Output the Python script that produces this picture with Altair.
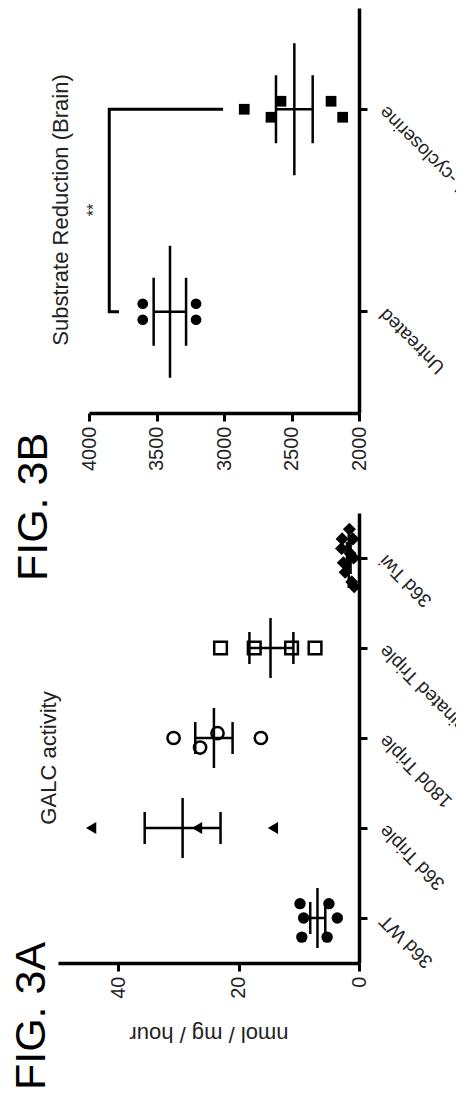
import altair as alt
import pandas as pd

# ---------------- Panel 3A : GALC activity ----------------
A_CATS = ["36d Twi", "Terminated Triple", "180d Triple", "36d Triple", "36d WT"]
A_GROUP = (["36d WT"] * 6 + ["36d Triple"] * 3 + ["180d Triple"] * 4
           + ["Terminated Triple"] * 4 + ["36d Twi"] * 10)
A_VALUE = [9.8, 5.0, 9.2, 3.6, 9.5, 5.3,
           44.5, 26.9, 14.3,
           30.8, 26.4, 23.5, 16.3,
           23.0, 17.4, 11.2, 7.3,
           1.6, 2.8, 2.9, 1.5, 2.6, 2.3, 1.2, 0.8, 0.9, 1.0]
A_JIT = [-3, -3, 0, 0, 4, 4,
         0, 0, 0,
         0, 2, -1, 0,
         0, 0, 0, 0,
         -6, -4, -2, -1, 1, 3, 5, 6, 0, -4]
A_MEAN = [1.7, 14.7, 24.1, 29.3, 6.9]
A_LO = [1.4, 10.9, 21.0, 23.0, 5.6]
A_HI = [2.0, 18.2, 27.2, 35.6, 8.1]
A_TICKS = [0, 20, 40]
A_SHAPES = ["diamond", "square", "circle", "triangle-left", "circle"]
A_SIZES = [170, 130, 110, 70, 120]
A_FILLED = ["36d Twi", "36d Triple", "36d WT"]
A_OPEN = ["Terminated Triple", "180d Triple"]

# ---------------- Panel 3B : Substrate reduction ----------------
B_CATS = ["L-cycloserine", "Untreated"]
B_GROUP = ["Untreated"] * 4 + ["L-cycloserine"] * 5
B_VALUE = [3602, 3602, 3207, 3207, 2850, 2578, 2652, 2207, 2121]
B_JIT = [-1, 1, -1, 1, 0, -1, 1, -1, 1]
B_MEAN = [2479, 3400]
B_LO = [2343, 3281]
B_HI = [2615, 3521]
B_TICKS = [2000, 2500, 3000, 3500, 4000]
B_SHAPES = ["square", "circle"]
BRACKET_X = [3007, 3850, 3850, 3778]
BRACKET_CAT = ["L-cycloserine", "L-cycloserine", "Untreated", "Untreated"]
BRACKET_ORDER = [0, 1, 2, 3]
STAR_X = [3960]

FONT = "Liberation Sans"
TXT = "#222222"

A_W, A_H = 301, 450
B_W, B_H = 301, 405


def value_axis(ticks, title=None):
    kw = dict(values=ticks, format="d", labelAngle=270, labelAlign="right",
              labelBaseline="middle", labelFontSize=20, labelPadding=5, tickSize=8,
              tickWidth=3, domainWidth=3.5, grid=False, labelFont=FONT, labelColor=TXT,
              domainColor="black", tickColor="black")
    if title:
        kw.update(title=title, titleAngle=180, titleFontSize=22, titleBaseline="middle",
                  titleY=70, titleFontWeight="normal", titleColor=TXT, titleFont=FONT)
    else:
        kw.update(title=None)
    return alt.Axis(**kw)


def cat_axis():
    return alt.Axis(orient="right", labelAngle=225, labelAlign="right",
                    labelBaseline="middle", labelFontSize=19, labelPadding=15,
                    labelLimit=600, tickSize=8, tickWidth=3, domainWidth=3.5,
                    title=None, grid=False, labelFont=FONT, labelColor=TXT,
                    domainColor="black", tickColor="black")


# ---- 3A ----
a_pts = pd.DataFrame({"group": A_GROUP, "value": A_VALUE, "jit": A_JIT})
a_sum = pd.DataFrame({"group": A_CATS, "mean": A_MEAN, "lo": A_LO, "hi": A_HI})

a_xscale = alt.Scale(domain=[0, 50], reverse=True)
a_yscale = alt.Scale(type="band", domain=A_CATS, paddingInner=0, paddingOuter=0)
a_xaxis = value_axis(A_TICKS, "nmol / mg / hour")
a_band = A_H / len(A_CATS)


def ax_a(field):
    return alt.X(field, type="quantitative", scale=a_xscale, axis=a_xaxis)


def ay_a():
    return alt.Y("group:N", scale=a_yscale, axis=cat_axis())


a_shape = alt.Shape("group:N", scale=alt.Scale(domain=A_CATS, range=A_SHAPES), legend=None)
a_size = alt.Size("group:N", scale=alt.Scale(domain=A_CATS, range=A_SIZES), legend=None)
a_off = alt.YOffset("jit:Q", scale=alt.Scale(domain=[-9, 9],
                                             range=[a_band / 2 - 43, a_band / 2 + 43]))

a_filled = alt.Chart(a_pts).transform_filter(
    alt.FieldOneOfPredicate(field="group", oneOf=A_FILLED)
).mark_point(filled=True, color="black", opacity=1).encode(
    x=ax_a("value"), y=ay_a(), yOffset=a_off, shape=a_shape, size=a_size)

a_open = alt.Chart(a_pts).transform_filter(
    alt.FieldOneOfPredicate(field="group", oneOf=A_OPEN)
).mark_point(filled=False, color="black", strokeWidth=2.5, opacity=1).encode(
    x=ax_a("value"), y=ay_a(), yOffset=a_off, shape=a_shape, size=a_size)

a_meanline = alt.Chart(a_sum).mark_tick(orient="vertical", size=60, thickness=2.5,
                                        color="black", opacity=1).encode(
    x=ax_a("mean"), y=ay_a())
a_cap_lo = alt.Chart(a_sum).mark_tick(orient="vertical", size=32, thickness=2.5,
                                      color="black", opacity=1).encode(
    x=ax_a("lo"), y=ay_a())
a_cap_hi = alt.Chart(a_sum).mark_tick(orient="vertical", size=32, thickness=2.5,
                                      color="black", opacity=1).encode(
    x=ax_a("hi"), y=ay_a())
a_conn = alt.Chart(a_sum).mark_rule(strokeWidth=2.5, color="black").encode(
    x=ax_a("lo"), x2="hi:Q", y=ay_a())

a_title = alt.Chart(pd.DataFrame({"t": ["GALC activity"]})).mark_text(
    angle=270, font=FONT, fontSize=22, color=TXT, align="center", baseline="middle"
).encode(x=alt.value(-9), y=alt.value(245), text="t:N")
a_fig = alt.Chart(pd.DataFrame({"t": ["FIG. 3A"]})).mark_text(
    angle=270, font=FONT, fontSize=43, color="black", align="center", baseline="middle"
).encode(x=alt.value(-26), y=alt.value(503), text="t:N")

chart_a = alt.layer(a_conn, a_cap_lo, a_cap_hi, a_meanline, a_open, a_filled,
                    a_title, a_fig).properties(width=A_W, height=A_H)

# ---- 3B ----
b_pts = pd.DataFrame({"group": B_GROUP, "value": B_VALUE, "jit": B_JIT})
b_sum = pd.DataFrame({"group": B_CATS, "mean": B_MEAN, "lo": B_LO, "hi": B_HI})
b_br = pd.DataFrame({"group": BRACKET_CAT, "value": BRACKET_X, "o": BRACKET_ORDER})
b_st = pd.DataFrame({"v": STAR_X, "t": ["**"]})

b_xscale = alt.Scale(domain=[2000, 4000], range=[B_W, 31])
b_yscale = alt.Scale(type="band", domain=B_CATS, paddingInner=0, paddingOuter=0)
b_xaxis = value_axis(B_TICKS)
b_band = B_H / len(B_CATS)


def ax_b(field):
    return alt.X(field, type="quantitative", scale=b_xscale, axis=b_xaxis)


def ay_b():
    return alt.Y("group:N", scale=b_yscale, axis=cat_axis())


b_shape = alt.Shape("group:N", scale=alt.Scale(domain=B_CATS, range=B_SHAPES), legend=None)
b_off = alt.YOffset("jit:Q", scale=alt.Scale(domain=[-1, 1],
                                             range=[b_band / 2 - 8, b_band / 2 + 8]))

b_points = alt.Chart(b_pts).mark_point(filled=True, color="black", size=115, opacity=1).encode(
    x=ax_b("value"), y=ay_b(), yOffset=b_off, shape=b_shape)
b_meanline = alt.Chart(b_sum).mark_tick(orient="vertical", size=132, thickness=2.5,
                                        color="black", opacity=1).encode(
    x=ax_b("mean"), y=ay_b())
b_cap_lo = alt.Chart(b_sum).mark_tick(orient="vertical", size=68, thickness=2.5,
                                      color="black", opacity=1).encode(
    x=ax_b("lo"), y=ay_b())
b_cap_hi = alt.Chart(b_sum).mark_tick(orient="vertical", size=68, thickness=2.5,
                                      color="black", opacity=1).encode(
    x=ax_b("hi"), y=ay_b())
b_conn = alt.Chart(b_sum).mark_rule(strokeWidth=2.5, color="black").encode(
    x=ax_b("lo"), x2="hi:Q", y=ay_b())
b_bracket = alt.Chart(b_br).mark_line(color="black", strokeWidth=3).encode(
    x=ax_b("value"), y=ay_b(), order="o:Q")
b_star = alt.Chart(b_st).mark_text(
    angle=270, font=FONT, fontSize=16, color=TXT, align="center", baseline="middle"
).encode(x=ax_b("v"), y=alt.value(202), text="t:N")
b_title = alt.Chart(pd.DataFrame({"t": ["Substrate Reduction (Brain)"]})).mark_text(
    angle=270, font=FONT, fontSize=22, color=TXT, align="center", baseline="middle"
).encode(x=alt.value(3), y=alt.value(202), text="t:N")
b_fig = alt.Chart(pd.DataFrame({"t": ["FIG. 3B"]})).mark_text(
    angle=270, font=FONT, fontSize=43, color="black", align="center", baseline="middle"
).encode(x=alt.value(-24), y=alt.value(499), text="t:N")

chart_b = alt.layer(b_bracket, b_conn, b_cap_lo, b_cap_hi, b_meanline, b_points,
                    b_star, b_title, b_fig).properties(width=B_W, height=B_H)

chart = alt.vconcat(chart_b, chart_a, spacing=100, bounds="flush").resolve_scale(
    shape="independent", size="independent", yOffset="independent"
).properties(
    padding={"top": 0, "left": 3, "right": -37, "bottom": 5},
    background="white"
).configure_view(stroke="transparent", strokeWidth=0).configure_axis(
    domainColor="black", tickColor="black", labelColor=TXT, labelFont=FONT,
    titleFont=FONT, grid=False
)

chart.save("out.html", embed_options={"renderer": "svg", "actions": False})
